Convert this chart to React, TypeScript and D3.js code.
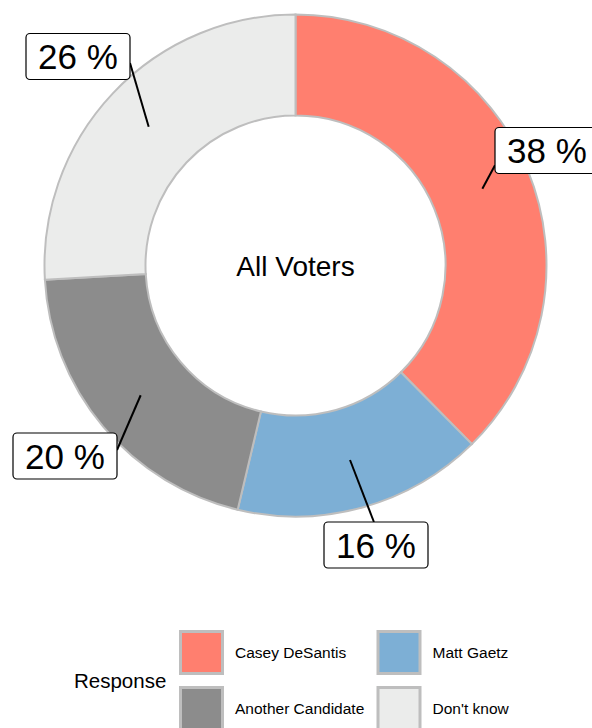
import React, { useRef, useEffect } from 'react';
import * as d3 from 'd3';

const responses = ['Casey DeSantis', 'Matt Gaetz', 'Another Candidate', "Don't know"];
const shares = [37.6, 16.1, 20.4, 25.9];
const fills = ['#FF7F6F', '#7DAFD5', '#8C8C8C', '#EBECEB'];
const centerLabel = 'All Voters';
const legendTitle = 'Response';

// where ggrepel ended up putting each label box (centre, px from donut centre)
const boxOffsets = [
  [251.5, -115],
  [80.5, 279.5],
  [-230.5, 190.5],
  [-217.5, -209],
];
// where the leader line meets the box, as a fraction of box size from its centre
const attach = [
  [-0.5, 0.32],
  [-0.02, -0.5],
  [0.5, -0.13],
  [0.5, 0.14],
];

const FONT = '"Liberation Sans", Arial, sans-serif';

const App = () => {
  const svgRef = useRef<SVGSVGElement>(null);

  useEffect(() => {
    const W = 592;
    const H = 728;
    const svg = d3.select(svgRef.current).attr('width', W).attr('height', H);
    svg.selectAll('*').remove();

    const cx = 295.5;
    const cy = 265.5;
    const outer = 251;
    const inner = 150;

    const data = responses.map((r, i) => ({ name: r, value: shares[i], fill: fills[i] }));
    const pie = d3.pie<any>().value(d => d.value).sort(null);
    const arcs = pie(data);
    const arc = d3.arc<any>().innerRadius(inner).outerRadius(outer);
    const mid = d3.arc<any>().innerRadius(202).outerRadius(202);

    const g = svg.append('g').attr('transform', `translate(${cx},${cy})`);

    g.selectAll('path.slice')
      .data(arcs)
      .enter().append('path')
      .attr('class', 'slice')
      .attr('d', arc)
      .style('fill', d => d.data.fill)
      .style('stroke', '#BEBEBE')
      .style('stroke-width', 2);

    g.append('text')
      .attr('x', 0)
      .attr('y', 10)
      .attr('text-anchor', 'middle')
      .style('font-family', FONT)
      .style('font-size', '28px')
      .style('fill', '#000')
      .text(centerLabel);

    const bw = 104;
    const bh = 46;

    arcs.forEach((a, i) => {
      const [px, py] = mid.centroid(a);
      const [bx, by] = boxOffsets[i];
      const ex = bx + attach[i][0] * bw;
      const ey = by + attach[i][1] * bh;

      g.append('line')
        .attr('x1', px).attr('y1', py)
        .attr('x2', ex).attr('y2', ey)
        .style('stroke', '#000')
        .style('stroke-width', 2);

      g.append('rect')
        .attr('x', bx - bw / 2)
        .attr('y', by - bh / 2)
        .attr('width', bw)
        .attr('height', bh)
        .attr('rx', 4)
        .style('fill', '#fff')
        .style('stroke', '#000')
        .style('stroke-width', 1.2);

      g.append('text')
        .attr('x', bx)
        .attr('y', by + 12.5)
        .attr('text-anchor', 'middle')
        .style('font-family', FONT)
        .style('font-size', '35px')
        .style('fill', '#000')
        .text(`${Math.round(a.data.value)} %`);
    });

    // legend
    const leg = svg.append('g');
    leg.append('text')
      .attr('x', 74)
      .attr('y', 688)
      .style('font-family', FONT)
      .style('font-size', '20.5px')
      .style('fill', '#000')
      .text(legendTitle);

    const colX = [180.5, 378];
    const rowY = [631.5, 687.5];
    const key = 42;
    data.forEach((d, i) => {
      const c = i % 2;
      const r = Math.floor(i / 2);
      leg.append('rect')
        .attr('x', colX[c])
        .attr('y', rowY[r])
        .attr('width', key)
        .attr('height', key)
        .style('fill', d.fill)
        .style('stroke', '#BEBEBE')
        .style('stroke-width', 3);
      leg.append('text')
        .attr('x', colX[c] + 54.5)
        .attr('y', rowY[r] + 26.5)
        .style('font-family', FONT)
        .style('font-size', '15.5px')
        .style('fill', '#000')
        .text(d.name);
    });
  }, []);

  return (
    <div style={{ position: 'absolute', left: 0, top: 0 }}>
      <svg ref={svgRef} style={{ display: 'block' }}></svg>
    </div>
  );
};

export default App;
